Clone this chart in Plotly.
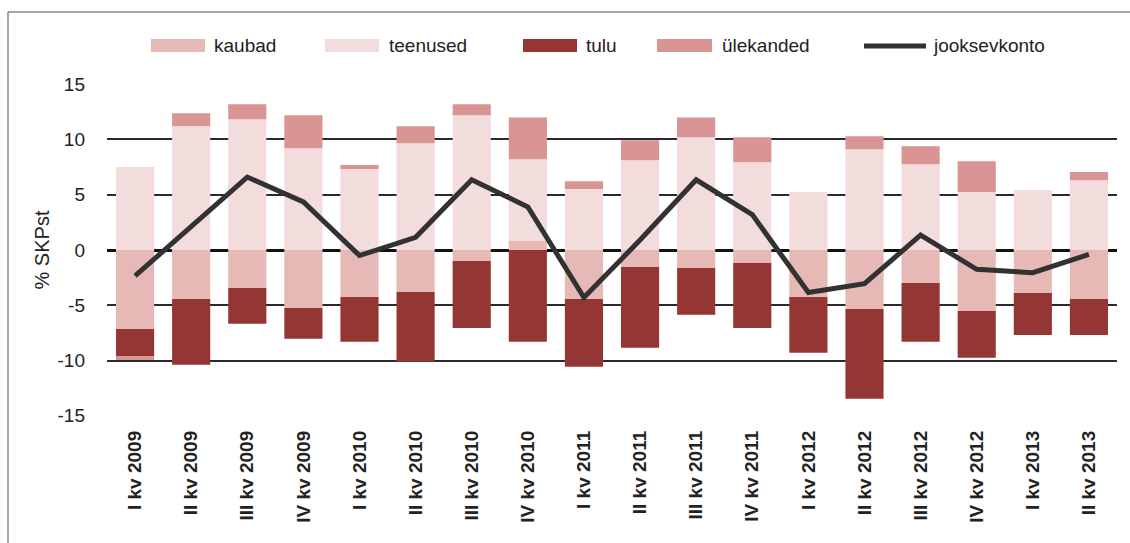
import plotly.graph_objects as go

categories = ["I kv 2009", "II kv 2009", "III kv 2009", "IV kv 2009",
              "I kv 2010", "II kv 2010", "III kv 2010", "IV kv 2010",
              "I kv 2011", "II kv 2011", "III kv 2011", "IV kv 2011",
              "I kv 2012", "II kv 2012", "III kv 2012", "IV kv 2012",
              "I kv 2013", "II kv 2013"]

kaubad = [-7.15, -4.43, -3.43, -5.24, -4.25, -3.79, -0.99, 0.81,
          -4.43, -1.54, -1.63, -1.17, -4.25, -5.33, -2.98, -5.51, -3.88, -4.43]
teenused = [7.5, 11.2, 11.83, 9.21, 7.32, 9.67, 12.2, 7.41,
            5.51, 8.13, 10.2, 7.95, 5.24, 9.12, 7.77, 5.24, 5.42, 6.32]
tulu = [-2.45, -5.96, -3.25, -2.8, -4.06, -6.33, -6.06, -8.31,
        -6.14, -7.31, -4.24, -5.88, -5.05, -8.13, -5.33, -4.25, -3.8, -3.25]
ylekanded = [-0.35, 1.18, 1.36, 2.99, 0.36, 1.53, 0.99, 3.78,
             0.72, 1.81, 1.8, 2.25, 0.0, 1.18, 1.62, 2.8, 0.0, 0.73]
jooksevkonto = [-2.35, 2.1, 6.6, 4.35, -0.5, 1.15, 6.35, 3.9,
                -4.3, 0.9, 6.35, 3.2, -3.85, -3.05, 1.35, -1.75, -2.05, -0.4]

y_ticks = [-15, -10, -5, 0, 5, 10, 15]

c_kaubad = "#E6B9B6"
c_teenused = "#F3DCDC"
c_tulu = "#943634"
c_ylek = "#D99594"
c_line = "#323232"

FONT = "Liberation Sans, Arial, sans-serif"

fig = go.Figure()
fig.add_bar(x=categories, y=kaubad, name="kaubad", marker_color=c_kaubad, marker_line_width=0)
fig.add_bar(x=categories, y=teenused, name="teenused", marker_color=c_teenused, marker_line_width=0)
fig.add_bar(x=categories, y=tulu, name="tulu", marker_color=c_tulu, marker_line_width=0)
fig.add_bar(x=categories, y=ylekanded, name="ülekanded", marker_color=c_ylek, marker_line_width=0)
fig.add_scatter(x=categories, y=jooksevkonto, name="jooksevkonto", mode="lines",
                line=dict(color=c_line, width=5))

fig.update_layout(
    width=1130, height=543,
    margin=dict(l=107, r=13, t=84, b=127),
    barmode="relative", bargap=0.32,
    plot_bgcolor="white", paper_bgcolor="white",
    showlegend=False,
    font=dict(family=FONT, size=15, color="#222"),
)
fig.update_yaxes(range=[-15.02, 15.02], tickvals=y_ticks, ticktext=[str(v) for v in y_ticks],
                 showgrid=True, gridcolor="#2a2a2a", gridwidth=1.5,
                 zeroline=True, zerolinecolor="#111", zerolinewidth=2.5,
                 showline=False, ticks="", ticklabelstandoff=21,
                 tickfont=dict(size=19),
                 title=dict(text="% SKPst", font=dict(size=20), standoff=2))
fig.update_xaxes(tickangle=-90, showgrid=False, showline=False, ticks="",
                 tickfont=dict(size=19, family=FONT, weight="bold"),
                 ticklabelstandoff=10)

# custom legend (paper coordinates)
def px_x(p):
    return (p - 107) / 1010.0

def px_y(p):
    return (416 - p) / 332.0

legend_items = [("kaubad", c_kaubad, 151, 205, 212),
                ("teenused", c_teenused, 325, 379, 387),
                ("tulu", c_tulu, 523, 577, 584),
                ("ülekanded", c_ylek, 657, 712, 720)]
for name, col, x0, x1, tx in legend_items:
    fig.add_shape(type="rect", xref="paper", yref="paper",
                  x0=px_x(x0), x1=px_x(x1), y0=px_y(52), y1=px_y(39),
                  fillcolor=col, line_width=0)
    fig.add_annotation(text=name, xref="paper", yref="paper", x=px_x(tx), y=px_y(46),
                       xanchor="left", yanchor="middle", showarrow=False,
                       font=dict(size=19, color="#222"))
fig.add_shape(type="line", xref="paper", yref="paper",
              x0=px_x(864), x1=px_x(926), y0=px_y(46), y1=px_y(46),
              line=dict(color=c_line, width=5))
fig.add_annotation(text="jooksevkonto", xref="paper", yref="paper", x=px_x(931), y=px_y(46),
                   xanchor="left", yanchor="middle", showarrow=False,
                   font=dict(size=19, color="#222"))

# frame lines
fig.add_shape(type="line", xref="paper", yref="paper",
              x0=px_x(8), x1=px_x(1130), y0=px_y(12), y1=px_y(12),
              line=dict(color="#8a8a8a", width=1.5))
fig.add_shape(type="line", xref="paper", yref="paper",
              x0=px_x(8), x1=px_x(8), y0=px_y(12), y1=px_y(543),
              line=dict(color="#8a8a8a", width=1.5))

fig.write_html("out.html", config={"displayModeBar": False},
               post_script="document.body.style.margin='0';document.body.style.padding='0';")
